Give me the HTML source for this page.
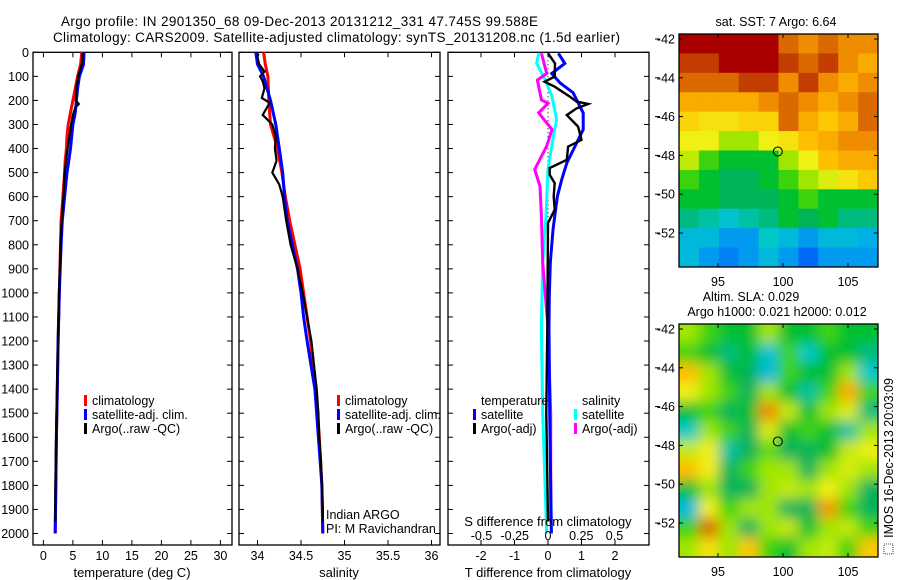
<!DOCTYPE html>
<html><head><meta charset="utf-8"><style>
body{margin:0;background:#fff}
svg{display:block;font-family:"Liberation Sans",sans-serif;}
</style></head><body>
<svg id="fig" width="900" height="580" viewBox="0 0 900 580" xmlns="http://www.w3.org/2000/svg">
<defs>
<filter id="blur" x="0" y="0" width="1" height="1"><feGaussianBlur stdDeviation="6.5"/></filter>
<clipPath id="clipSla"><rect x="679" y="324" width="199" height="233"/></clipPath>
<clipPath id="clipSst"><rect x="679" y="34" width="199" height="233"/></clipPath>
</defs>
<text x="61" y="26" font-size="13.5" textLength="477">Argo profile: IN 2901350_68 09-Dec-2013 20131212_331 47.745S 99.588E</text>
<text x="53" y="42" font-size="13.5" textLength="567">Climatology: CARS2009. Satellite-adjusted climatology: synTS_20131208.nc (1.5d earlier)</text>
</svg>
<script>
// ---- data: temperature panel ----
const tDepthClim=[0,50,100,150,200,250,300,350,400,450,500,600,700,800,900,1000,1200,1400,1600,1800,2000];
const tClim=[6.5,6.3,5.8,5.4,5.0,4.6,4.2,4.0,3.9,3.7,3.6,3.3,3.0,2.9,2.8,2.7,2.5,2.35,2.2,2.1,2.0];
const tSat=[6.9,6.8,6.1,5.8,5.6,5.4,5.0,4.8,4.6,4.3,4.0,3.6,3.2,3.0,2.85,2.7,2.5,2.35,2.2,2.1,2.0];
const tDepthArgo=[5,50,100,150,200,215,230,260,300,400,500,600,700,800,900,1000,1200,1400,1600,1800,1950];
const tArgo=[6.6,6.5,5.9,5.6,5.5,6.0,5.4,5.0,4.7,4.1,3.6,3.4,3.1,2.9,2.8,2.65,2.5,2.3,2.15,2.05,2.0];
// ---- data: salinity panel ----
const sDepthClim=[0,50,100,200,300,400,500,600,700,800,900,1000,1100,1200,1400,1600,1800,2000];
const sClim=[34.07,34.09,34.12,34.13,34.15,34.23,34.28,34.32,34.37,34.43,34.49,34.53,34.57,34.61,34.67,34.71,34.74,34.75];
const sSat=[33.98,34.0,34.07,34.15,34.21,34.25,34.29,34.31,34.34,34.40,34.46,34.50,34.53,34.57,34.66,34.70,34.74,34.75];
const sDepthArgo=[5,20,50,80,100,120,150,190,210,260,300,350,400,450,500,550,600,700,800,900,1000,1100,1200,1300,1400,1500,1600,1700,1800,1900,1950];
const sArgo=[34.01,34.0,34.02,34.08,34.03,34.06,34.08,34.05,34.14,34.06,34.17,34.21,34.20,34.22,34.17,34.25,34.29,34.33,34.38,34.46,34.52,34.57,34.62,34.65,34.68,34.70,34.71,34.73,34.74,34.75,34.75];
// ---- data: difference panel ----
const dDepthTSat=[4,46,88,127,168,210,252,321,390,460,529,598,737,875,1014,1146,1500,2000];
const dTSat=[0.31,0.5,0.11,0.36,0.75,0.9,1.05,1.05,0.81,0.56,0.41,0.28,0.15,0.07,0.04,0.03,0.05,0.1];
const dDepthTArgo=[4,46,101,122,143,184,205,215,233,261,309,364,392,447,481,509,544,598,654,709,1146,1500,1950];
const dTArgo=[0,0.21,0.2,-0.1,0.2,0.65,0.85,1.2,0.85,0.56,0.9,1.0,0.6,0.56,0.05,0.05,0.2,0.17,0.2,0,-0.02,-0.05,0];
const dDepthSArgo=[4,88,115,198,212,252,321,390,487,557,681,875,1146,1500,1950];
const dSArgo=[-0.05,-0.01,-0.08,-0.05,0,-0.07,0.03,-0.01,-0.1,-0.06,-0.05,-0.04,0,0.02,0.02];
const dDepthSSat=[4,46,115,184,280,350,487,681,875,1146,1500,2000];
const dSSat=[-0.07,-0.085,-0.02,0.03,0.065,0.04,0,-0.015,-0.04,-0.05,-0.04,-0.01];
// ---- tick labels ----
const depthTicks=[0,100,200,300,400,500,600,700,800,900,1000,1100,1200,1300,1400,1500,1600,1700,1800,1900,2000];
const tempTicks=[0,5,10,15,20,25,30];
const salTicks=[34,34.5,35,35.5,36];
const salTickLabels=["34","34.5","35","35.5","36"];
const tdiffTicks=[-2,-1,0,1,2];
const sdiffTicks=[-0.5,-0.25,0,0.25,0.5];
const sdiffTickLabels=["-0.5","-0.25","0","0.25","0.5"];
const lonTicks=[95,100,105];
const latTicks=[-42,-44,-46,-48,-50,-52];
// ---- map grids (colour index 0..1), 10 cols x 12 rows ----
const sstGrid=[
[0.95,0.95,0.95,0.95,0.95,0.85,0.8,0.85,0.8,0.8],
[0.9,0.9,0.95,0.95,0.95,0.9,0.85,0.9,0.8,0.75],
[0.85,0.85,0.85,0.9,0.9,0.8,0.9,0.8,0.75,0.8],
[0.75,0.75,0.75,0.75,0.8,0.85,0.8,0.75,0.8,0.85],
[0.68,0.65,0.65,0.68,0.68,0.85,0.75,0.7,0.75,0.85],
[0.62,0.62,0.55,0.55,0.62,0.65,0.72,0.75,0.8,0.8],
[0.58,0.5,0.45,0.45,0.45,0.55,0.62,0.72,0.75,0.75],
[0.5,0.45,0.42,0.42,0.45,0.5,0.55,0.6,0.65,0.7],
[0.45,0.45,0.42,0.42,0.42,0.45,0.5,0.45,0.45,0.45],
[0.4,0.38,0.35,0.38,0.4,0.45,0.42,0.45,0.4,0.4],
[0.33,0.33,0.28,0.28,0.36,0.33,0.28,0.33,0.33,0.31],
[0.33,0.28,0.25,0.28,0.33,0.28,0.22,0.28,0.28,0.28]];
const slaGrid=[
[0.55,0.5,0.45,0.45,0.55,0.45,0.45,0.5,0.45,0.45],
[0.5,0.45,0.4,0.45,0.35,0.5,0.36,0.45,0.45,0.4],
[0.72,0.55,0.45,0.42,0.33,0.5,0.45,0.45,0.55,0.36],
[0.62,0.55,0.5,0.42,0.55,0.45,0.38,0.5,0.75,0.5],
[0.45,0.5,0.42,0.45,0.8,0.58,0.45,0.55,0.6,0.4],
[0.36,0.55,0.5,0.42,0.6,0.45,0.5,0.45,0.38,0.55],
[0.58,0.62,0.38,0.42,0.52,0.42,0.42,0.45,0.58,0.62],
[0.72,0.62,0.42,0.5,0.55,0.55,0.42,0.55,0.6,0.55],
[0.45,0.55,0.42,0.42,0.55,0.58,0.55,0.62,0.55,0.42],
[0.33,0.62,0.5,0.55,0.55,0.42,0.42,0.78,0.5,0.42],
[0.5,0.85,0.55,0.42,0.55,0.58,0.45,0.55,0.58,0.5],
[0.55,0.65,0.55,0.7,0.5,0.45,0.55,0.58,0.5,0.7]];
const argoLon=99.6, argoLat=-47.8;

const NS="http://www.w3.org/2000/svg";
const svg=document.getElementById('fig');
function mk(tag,attrs,parent){const e=document.createElementNS(NS,tag);for(const k in attrs)e.setAttribute(k,attrs[k]);(parent||svg).appendChild(e);return e;}
function txt(s,x,y,size,anchor,parent){const e=mk('text',{x:x,y:y,'font-size':size,'text-anchor':anchor||'start'},parent);e.textContent=s;return e;}

const Y0=52.3, YK=0.2406, YB=545;
const yD=d=>Y0+d*YK;
const P1={x0:33,x1:232}, P2={x0:239,x1:440}, P3={x0:448,x1:649};
const xT=v=>43.4+v*5.9;
const xS=v=>257.5+(v-34)*87;
const xTD=v=>548+v*33.5;
const xSD=v=>548+v*133;

function frame(p,name){
  const r=mk('rect',{x:p.x0,y:Y0,width:p.x1-p.x0,height:YB-Y0,fill:'none',stroke:'#000','stroke-width':1.3});
  
  
  depthTicks.forEach(d=>{
    mk('line',{x1:p.x0,x2:p.x0+5,y1:yD(d),y2:yD(d),stroke:'#000'});
    mk('line',{x1:p.x1,x2:p.x1-5,y1:yD(d),y2:yD(d),stroke:'#000'});
  });
}
function xticks(vals,f,labels,name){
  vals.forEach((v,i)=>{
    const x=f(v);
    mk('line',{x1:x,x2:x,y1:Y0,y2:Y0+5,stroke:'#000'});
    mk('line',{x1:x,x2:x,y1:YB,y2:YB-5,stroke:'#000'});
    const t=txt(labels?labels[i]:String(v),x,560,12.5,'middle');
    
    
  });
}
function line(xs,ds,f,color,w,name){
  const pts=xs.map((v,i)=>f(v).toFixed(1)+','+yD(ds[i]).toFixed(1)).join(' ');
  const e=mk('polyline',{points:pts,fill:'none',stroke:color,'stroke-width':w,'stroke-linejoin':'miter'});
  
  
}
function legendItem(x,y,color,label,name){
  mk('rect',{x:x,y:y-10,width:3,height:11,fill:color});
  const t=txt(label,x+8,y,12.5);
  
  
}

// panel 1
frame(P1,'temperature-axes');
depthTicks.forEach(d=>{const t=txt(String(d),29,yD(d)+4.5,12.5,'end');
  
  });
xticks(tempTicks,xT,null,'temperature-tick-label');
line(tClim,tDepthClim,xT,'#ff0000',3,'temperature-climatology-line');
line(tSat,tDepthClim,xT,'#0000ff',3,'temperature-satellite-line');
line(tArgo,tDepthArgo,xT,'#000',2.2,'temperature-argo-line');
{const t=txt('temperature (deg C)',132,577,13,'middle');}
legendItem(84,405,'#ff0000','climatology','legend-climatology');
legendItem(84,419,'#0000ff','satellite-adj. clim.','legend-satellite-adj');
legendItem(84,433,'#000','Argo(..raw -QC)','legend-argo');

// panel 2
frame(P2,'salinity-axes');
xticks(salTicks,xS,salTickLabels,'salinity-tick-label');
line(sClim,sDepthClim,xS,'#ff0000',3,'salinity-climatology-line');
line(sSat,sDepthClim,xS,'#0000ff',3,'salinity-satellite-line');
line(sArgo,sDepthArgo,xS,'#000',2.2,'salinity-argo-line');
{const t=txt('salinity',339,577,13,'middle');}
legendItem(337,405,'#ff0000','climatology','legend-climatology');
legendItem(337,419,'#0000ff','satellite-adj. clim.','legend-satellite-adj');
legendItem(337,433,'#000','Argo(..raw -QC)','legend-argo');
{const t=txt('Indian ARGO',326,519,12.5);
 const u=txt('PI: M Ravichandran',326,533,12.5);}

// panel 3
frame(P3,'difference-axes');
xticks(tdiffTicks,xTD,null,'tdiff-tick-label');
mk('line',{x1:xTD(0),x2:xTD(0),y1:yD(0),y2:yD(1000),stroke:'#000','stroke-width':1,'stroke-dasharray':'1,3'});
line(dSSat,dDepthSSat,xSD,'#00ffff',3,'sdiff-satellite-line');
line(dSArgo,dDepthSArgo,xSD,'#ff00ff',3,'sdiff-argo-line');
line(dTSat,dDepthTSat,xTD,'#0000ff',3,'tdiff-satellite-line');
line(dTArgo,dDepthTArgo,xTD,'#000',2.4,'tdiff-argo-line');
sdiffTicks.forEach((v,i)=>{const t=txt(sdiffTickLabels[i],xSD(v),540,12.5,'middle');
  
  });
{const t=txt('S difference from climatology',548,526,13,'middle');}
{const t=txt('T difference from climatology',548,577,13,'middle');}
{const t=txt('temperature',481,405,12.5);
 const u=txt('salinity',582,405,12.5);}
legendItem(473,419,'#0000ff','satellite','legend-t-satellite');
legendItem(473,433,'#000','Argo(-adj)','legend-t-argo');
legendItem(574,419,'#00ffff','satellite','legend-s-satellite');
legendItem(574,433,'#ff00ff','Argo(-adj)','legend-s-argo');

// colormap
const stops=[[0,[0,0,140]],[0.2,[0,90,255]],[0.3,[0,170,235]],[0.36,[0,200,200]],[0.42,[0,180,90]],[0.47,[0,200,20]],[0.55,[160,230,0]],[0.62,[240,240,20]],[0.72,[255,190,0]],[0.8,[240,140,0]],[0.88,[205,85,0]],[0.95,[170,0,0]],[1,[150,0,0]]];
function cmap(v){for(let i=1;i<stops.length;i++){if(v<=stops[i][0]){const a=stops[i-1],b=stops[i];const t=(v-a[0])/(b[0]-a[0]);const c=a[1].map((x,k)=>Math.round(x+(b[1][k]-x)*t));return 'rgb('+c.join(',')+')';}}return 'rgb(150,0,0)';}

// maps
const MX0=679,MX1=878;
const xLon=l=>718+(l-95)*13;
function drawMap(grid,top,name,blurred,clip){
  const g=mk('g',{'clip-path':'url(#'+clip+')'});
  
  
  const inner=blurred?mk('g',{filter:'url(#blur)'},g):g;
  const rows=grid.length, cols=grid[0].length;
  const cw=(MX1-MX0)/cols, ch=233/rows;
  const pad=blurred?14:0;
  grid.forEach((row,r)=>row.forEach((v,c)=>{
    let x=MX0+c*cw, y=top+r*ch, w=cw+0.5, h=ch+0.5;
    if(blurred){if(c==0){x-=pad;w+=pad;} if(c==cols-1)w+=pad; if(r==0){y-=pad;h+=pad;} if(r==rows-1)h+=pad;}
    const cell=mk('rect',{x:x,y:y,width:w,height:h,fill:cmap(v)},inner);
    
    
  }));
  const yLat=la=>top+5+(-42-la)*19.4;
  mk('rect',{x:MX0,y:top,width:MX1-MX0,height:233,fill:'none',stroke:'#000','stroke-width':1.3});
  latTicks.forEach(la=>{
    const y=yLat(la);
    mk('line',{x1:MX0,x2:MX0+4,y1:y,y2:y,stroke:'#000'});
    mk('line',{x1:MX1,x2:MX1-4,y1:y,y2:y,stroke:'#000'});
    mk('line',{x1:655,x2:660,y1:y,y2:y,stroke:'#000'});
    const t=txt('-'+String(-la),675,y+4.5,12.5,'end');
    
    
  });
  lonTicks.forEach(lo=>{
    const x=xLon(lo);
    mk('line',{x1:x,x2:x,y1:top,y2:top+4,stroke:'#000'});
    mk('line',{x1:x,x2:x,y1:top+233,y2:top+229,stroke:'#000'});
    const t=txt(String(lo),x,top+252,12.5,'middle');
    
    
  });
  const m=mk('circle',{cx:xLon(argoLon),cy:yLat(argoLat),r:4.5,fill:'none',stroke:'#000','stroke-width':1});
  
  
}
drawMap(sstGrid,34,'sst-map',false,'clipSst');
drawMap(slaGrid,324,'sla-map',true,'clipSla');
{const t=txt('sat. SST: 7 Argo: 6.64',776,26,12.5,'middle');}
{const t=txt('Altim. SLA: 0.029',751,301,12.5,'middle');}
{const t=txt('Argo h1000: 0.021 h2000: 0.012',777,316,12.5,'middle');}
{const t=txt('IMOS 16-Dec-2013 20:03:09',0,0,12.5,'middle');t.setAttribute('transform','translate(893,458) rotate(-90)');
 }
mk('rect',{x:884,y:544,width:9,height:10,fill:'none',stroke:'#000','stroke-width':0.8,'stroke-dasharray':'1,1'});
</script>
</body></html>
